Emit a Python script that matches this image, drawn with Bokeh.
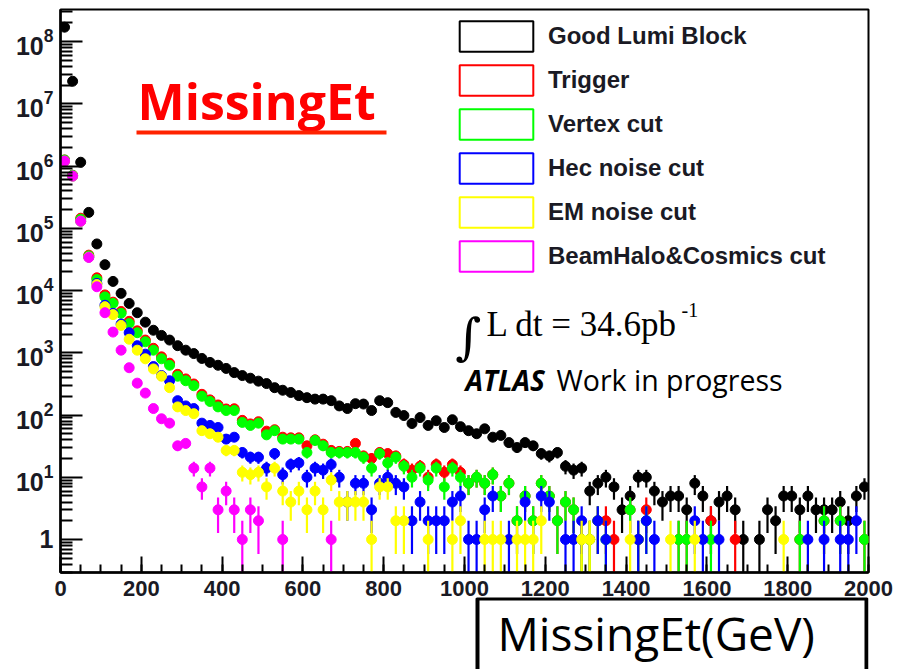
import math
from bokeh.plotting import figure
from bokeh.layouts import column
from bokeh.models import (Range1d, FixedTicker, SingleIntervalTicker, LogTickFormatter,
                          Legend, LegendItem, BoxAnnotation, ColumnDataSource)
from bokeh.core.properties import value
from bokeh.embed import file_html
from bokeh.resources import INLINE

# ---------------- data (counts per 20 GeV bin, 0..2000 GeV) ----------------
bin_width = 20
bin_centers = list(range(10, 2000, 20))

good_lumi = [
    1.7e8, 2.3e7, 1.15e6, 1.8e5, 5.6e4, 2.6e4, 1.4e4, 9000, 6200, 4400,
    3100, 2300, 1900, 1600, 1300, 1100, 970, 810, 700, 630,
    560, 480, 430, 390, 350, 320, 275, 250, 230, 205,
    190, 180, 180, 170, 140, 127, 152, 150, 118, 170,
    158, 110, 98, 73, 91, 68, 81, 63, 84, 65,
    56, 50, 60, 44, 47, 36, 30, 36, 32, 24,
    22, 25, 15, 13, 14, 6, 8, 10, 7, 3,
    5, 10, 10, 6, 4, 5, 5, 3, 8, 5,
    2, 4, 5, 3, 1, 0, 1, 3, 2, 5,
    5, 3, 5, 3, 3, 3, 4, 2, 5, 7]

trigger = [
    1.25e6, 7.1e5, 1.45e5, 3.7e4, 1.6e4, 8500, 6500, 4600, 3200, 2250,
    1600, 1180, 860, 680, 450, 380, 315, 215, 175, 145,
    125, 126, 82, 72, 78, 55, 58, 44, 43, 43,
    32, 40, 34, 27, 26, 26, 35, 22, 20, 25,
    24, 22, 16, 13, 15, 10, 16, 12, 16, 12,
    8, 10, 8, 11, 5, 8, 2, 5, 2, 8,
    5, 2, 4, 3, 1, 1, 2, 2, 1, 0,
    3, 1, 3, 0, 0, 0, 1, 1, 0, 0,
    2, 0, 0, 1, 0, 0, 0, 0, 0, 0,
    0, 1, 0, 0, 2, 0, 2, 0, 0, 1]

vertex = [
    1.25e6, 7.1e5, 1.4e5, 3.6e4, 1.5e4, 7900, 6200, 4300, 2950, 2100,
    1500, 1100, 800, 630, 420, 355, 295, 200, 165, 135,
    118, 118, 76, 68, 74, 48, 56, 41, 41, 41,
    25, 39, 32, 25, 25, 25, 25, 21, 14, 24,
    17, 21, 15, 10, 14, 9, 14, 7, 14, 10,
    8, 10, 8, 11, 5, 8, 2, 5, 2, 8,
    5, 2, 4, 3, 1, 1, 2, 1, 0, 0,
    3, 1, 2, 0, 0, 0, 1, 1, 0, 0,
    1, 0, 0, 0, 0, 0, 0, 0, 0, 0,
    0, 1, 0, 0, 2, 0, 2, 0, 0, 1]

hec_noise = [
    1.2e6, 6.9e5, 1.3e5, 3.45e4, 1.3e4, 5800, 4300, 2900, 2100, 1300,
    950, 600, 430, 355, 170, 140, 127, 74, 68, 63,
    41, 44, 25, 21, 21, 14, 24, 11, 16, 17,
    10, 14, 13, 16, 10, 4, 8, 8, 3, 8,
    10, 8, 7, 2, 4, 2, 2, 2, 4, 5,
    1, 1, 3, 5, 0, 1, 0, 4, 0, 5,
    4, 0, 1, 1, 2, 0, 2, 1, 0, 0,
    0, 1, 2, 1, 0, 0, 0, 0, 2, 1,
    0, 1, 0, 0, 0, 0, 0, 0, 0, 0,
    0, 0, 1, 0, 1, 0, 1, 1, 2, 0]

em_noise = [
    1.2e6, 6.9e5, 1.3e5, 3.45e4, 1.25e4, 5500, 4100, 2750, 1650, 1100,
    800, 550, 420, 275, 135, 118, 105, 56, 50, 44,
    27, 27, 12, 11, 12, 7, 14, 6, 4, 6,
    3, 6, 3, 9, 4, 4, 4, 4, 1, 7,
    7, 2, 2, 0, 0, 1, 0, 0, 1, 2,
    0, 0, 1, 1, 1, 0, 1, 1, 1, 2,
    0, 0, 0, 0, 1, 1, 0, 0, 0, 0,
    1, 0, 0, 0, 0, 1, 0, 0, 1, 0,
    0, 0, 0, 0, 0, 0, 0, 0, 0, 1,
    0, 0, 0, 0, 0, 0, 0, 0, 0, 0]

beamhalo = [
    1.2e6, 6.9e5, 1.3e5, 3.4e4, 1.15e4, 4400, 2150, 1100, 575, 325,
    225, 127, 87, 74, 32, 35, 14, 7, 14, 3,
    6, 3, 1, 3, 2, 0, 0, 1, 0, 0,
    0, 0, 0, 1, 0, 0, 0, 0, 0, 0,
    0, 0, 0, 0, 0, 0, 0, 0, 0, 0,
    0, 0, 0, 0, 0, 0, 0, 0, 0, 0,
    0, 0, 0, 0, 0, 0, 0, 0, 0, 0,
    0, 0, 0, 0, 0, 0, 0, 0, 0, 0,
    0, 0, 0, 0, 0, 0, 0, 0, 0, 0,
    0, 0, 0, 0, 0, 0, 0, 0, 0, 0]

series_names = ["Good Lumi Block", "Trigger", "Vertex cut", "Hec noise cut",
                "EM noise cut", "BeamHalo&Cosmics cut"]
series_values = [good_lumi, trigger, vertex, hec_noise, em_noise, beamhalo]
series_colors = ["#000000", "#ff0000", "#00ff00", "#0000ff", "#ffff00", "#ff00ff"]

x_ticks = list(range(0, 2001, 200))
y_ticks = [1, 10, 1e2, 1e3, 1e4, 1e5, 1e6, 1e7, 1e8]

# ---------------- layout ----------------
W = 899
H1 = 603                     # main figure
H2 = 72                      # axis-title box strip
OVERLAP = 6
BL, BR, BT = 60, 31, 9
FRAME_BOTTOM = 572
BB = H1 - FRAME_BOTTOM
XMIN, XMAX = 0, 2000
YMIN, YMAX = 0.295, 3.27e8
FW, FH = W - BL - BR, FRAME_BOTTOM - BT


def px2x(px):
    return XMIN + (px - BL) / FW * (XMAX - XMIN)


def py2y(py):
    lo, hi = math.log10(YMIN), math.log10(YMAX)
    return 10 ** (lo + (FRAME_BOTTOM - py) / FH * (hi - lo))


p = figure(width=W, height=H1, x_range=Range1d(XMIN, XMAX), y_range=Range1d(YMIN, YMAX),
           y_axis_type="log", output_backend="svg", toolbar_location=None,
           min_border_left=BL, min_border_right=BR, min_border_top=BT, min_border_bottom=BB)
p.xgrid.visible = False
p.ygrid.visible = False
p.outline_line_color = "black"
p.outline_line_width = 2
p.background_fill_color = "white"
p.border_fill_color = "white"

label_color = "#1a1a24"
p.xaxis.ticker = SingleIntervalTicker(interval=200, num_minor_ticks=4)
p.xaxis.major_label_overrides = {t: str(t) for t in x_ticks}
p.yaxis.ticker = FixedTicker(ticks=y_ticks,
                             minor_ticks=[m * 10 ** k for k in range(-1, 9) for m in range(2, 10)])
p.yaxis.formatter = LogTickFormatter(min_exponent=1)
for ax in (p.xaxis[0], p.yaxis[0]):
    ax.axis_line_width = 2.5
    ax.axis_line_color = "black"
    ax.major_tick_out = 0
    ax.minor_tick_out = 0
    ax.major_tick_line_width = 2
    ax.minor_tick_line_width = 2
    ax.major_label_text_font = "Liberation Sans"
    ax.major_label_text_font_style = "bold"
    ax.major_label_text_color = label_color
p.xaxis.major_tick_in = 16
p.xaxis.minor_tick_in = 8
p.xaxis.major_label_text_font_size = "22px"
p.xaxis.major_label_standoff = 8
p.yaxis.major_tick_in = 22
p.yaxis.minor_tick_in = 12
p.yaxis.major_label_text_font_size = "25px"
p.yaxis.major_label_standoff = 7

# ---------------- data points with error bars ----------------
for name, vals, color in zip(series_names, series_values, series_colors):
    xs = [c for c, v in zip(bin_centers, vals) if v > 0]
    ys = [v for v in vals if v > 0]
    src = ColumnDataSource(dict(
        x=xs, y=ys,
        lo=[max(v - math.sqrt(v), 0.01) for v in ys],
        hi=[v + math.sqrt(v) for v in ys],
        x0=[x - bin_width / 2 for x in xs],
        x1=[x + bin_width / 2 for x in xs],
    ))
    p.segment(x0="x", y0="lo", x1="x", y1="hi", source=src, line_color=color, line_width=2.2)
    p.segment(x0="x0", y0="y", x1="x1", y1="y", source=src, line_color=color, line_width=2.2)
    p.scatter(x="x", y="y", source=src, marker="circle", size=10,
              fill_color=color, line_color=color)

# ---------------- legend (empty-box swatches) ----------------
nan = float("nan")
items = []
for name, color in zip(series_names, series_colors):
    r = p.quad(left=[nan], right=[nan], top=[nan], bottom=[nan], fill_color="white",
               line_color=color, line_width=2)
    items.append(LegendItem(label=name, renderers=[r]))
legend = Legend(items=items, location=(390, 297), glyph_width=92, glyph_height=38,
                spacing=6, padding=0, margin=0, label_standoff=6,
                border_line_alpha=0, background_fill_alpha=0,
                label_text_font="Liberation Sans", label_text_font_style="bold",
                label_text_font_size="24px", label_text_color=label_color,
                label_height=38)
p.add_layout(legend)

# ---------------- annotations ----------------
def note(px, py, txt, font, size, color="black", style="normal"):
    p.text(x=[px2x(px)], y=[py2y(py)], text=[txt], text_font=value(font),
           text_font_size=size, text_font_style=style, text_color=color,
           text_baseline="alphabetic", text_align="left")


note(137, 100, "MissingEt", "Open Sans", "50px", "#ff0000", "bold")
p.add_layout(BoxAnnotation(left=px2x(136), right=px2x(386), top=py2y(130), bottom=py2y(134),
                           fill_color="#ff2200", fill_alpha=1, line_alpha=0))

note(455, 336, "∫", "DejaVu Serif", "50px")
note(486, 324, "L dt = 34.6pb", "Liberation Serif", "35px")
note(681, 309, "-1", "Liberation Serif", "20px")
note(465, 379, "ATLAS", "Open Sans", "28px", style="bold italic")
note(556, 379, "Work in progress", "Open Sans", "28.5px")

# ---------------- axis-title box below the plot ----------------
q = figure(width=W, height=H2, x_range=Range1d(BL, W - BR), y_range=Range1d(H2, 0),
           output_backend="svg", toolbar_location=None, x_axis_location=None,
           y_axis_location=None, min_border_left=BL, min_border_right=BR,
           min_border_top=0, min_border_bottom=0, margin=(-OVERLAP, 0, 0, 0))
q.xgrid.visible = False
q.ygrid.visible = False
q.outline_line_color = None
q.background_fill_alpha = 0
q.border_fill_alpha = 0
q.quad(left=[477], right=[866], top=[1], bottom=[140], fill_color="white",
       line_color="black", line_width=4)
q.text(x=[497], y=[35], text=["MissingEt(GeV)"], text_font=value("Open Sans"),
       text_font_size="46px", text_color="black", text_baseline="alphabetic")

layout = column(p, q, spacing=0)
open("out.html", "w").write(file_html(layout, INLINE))
